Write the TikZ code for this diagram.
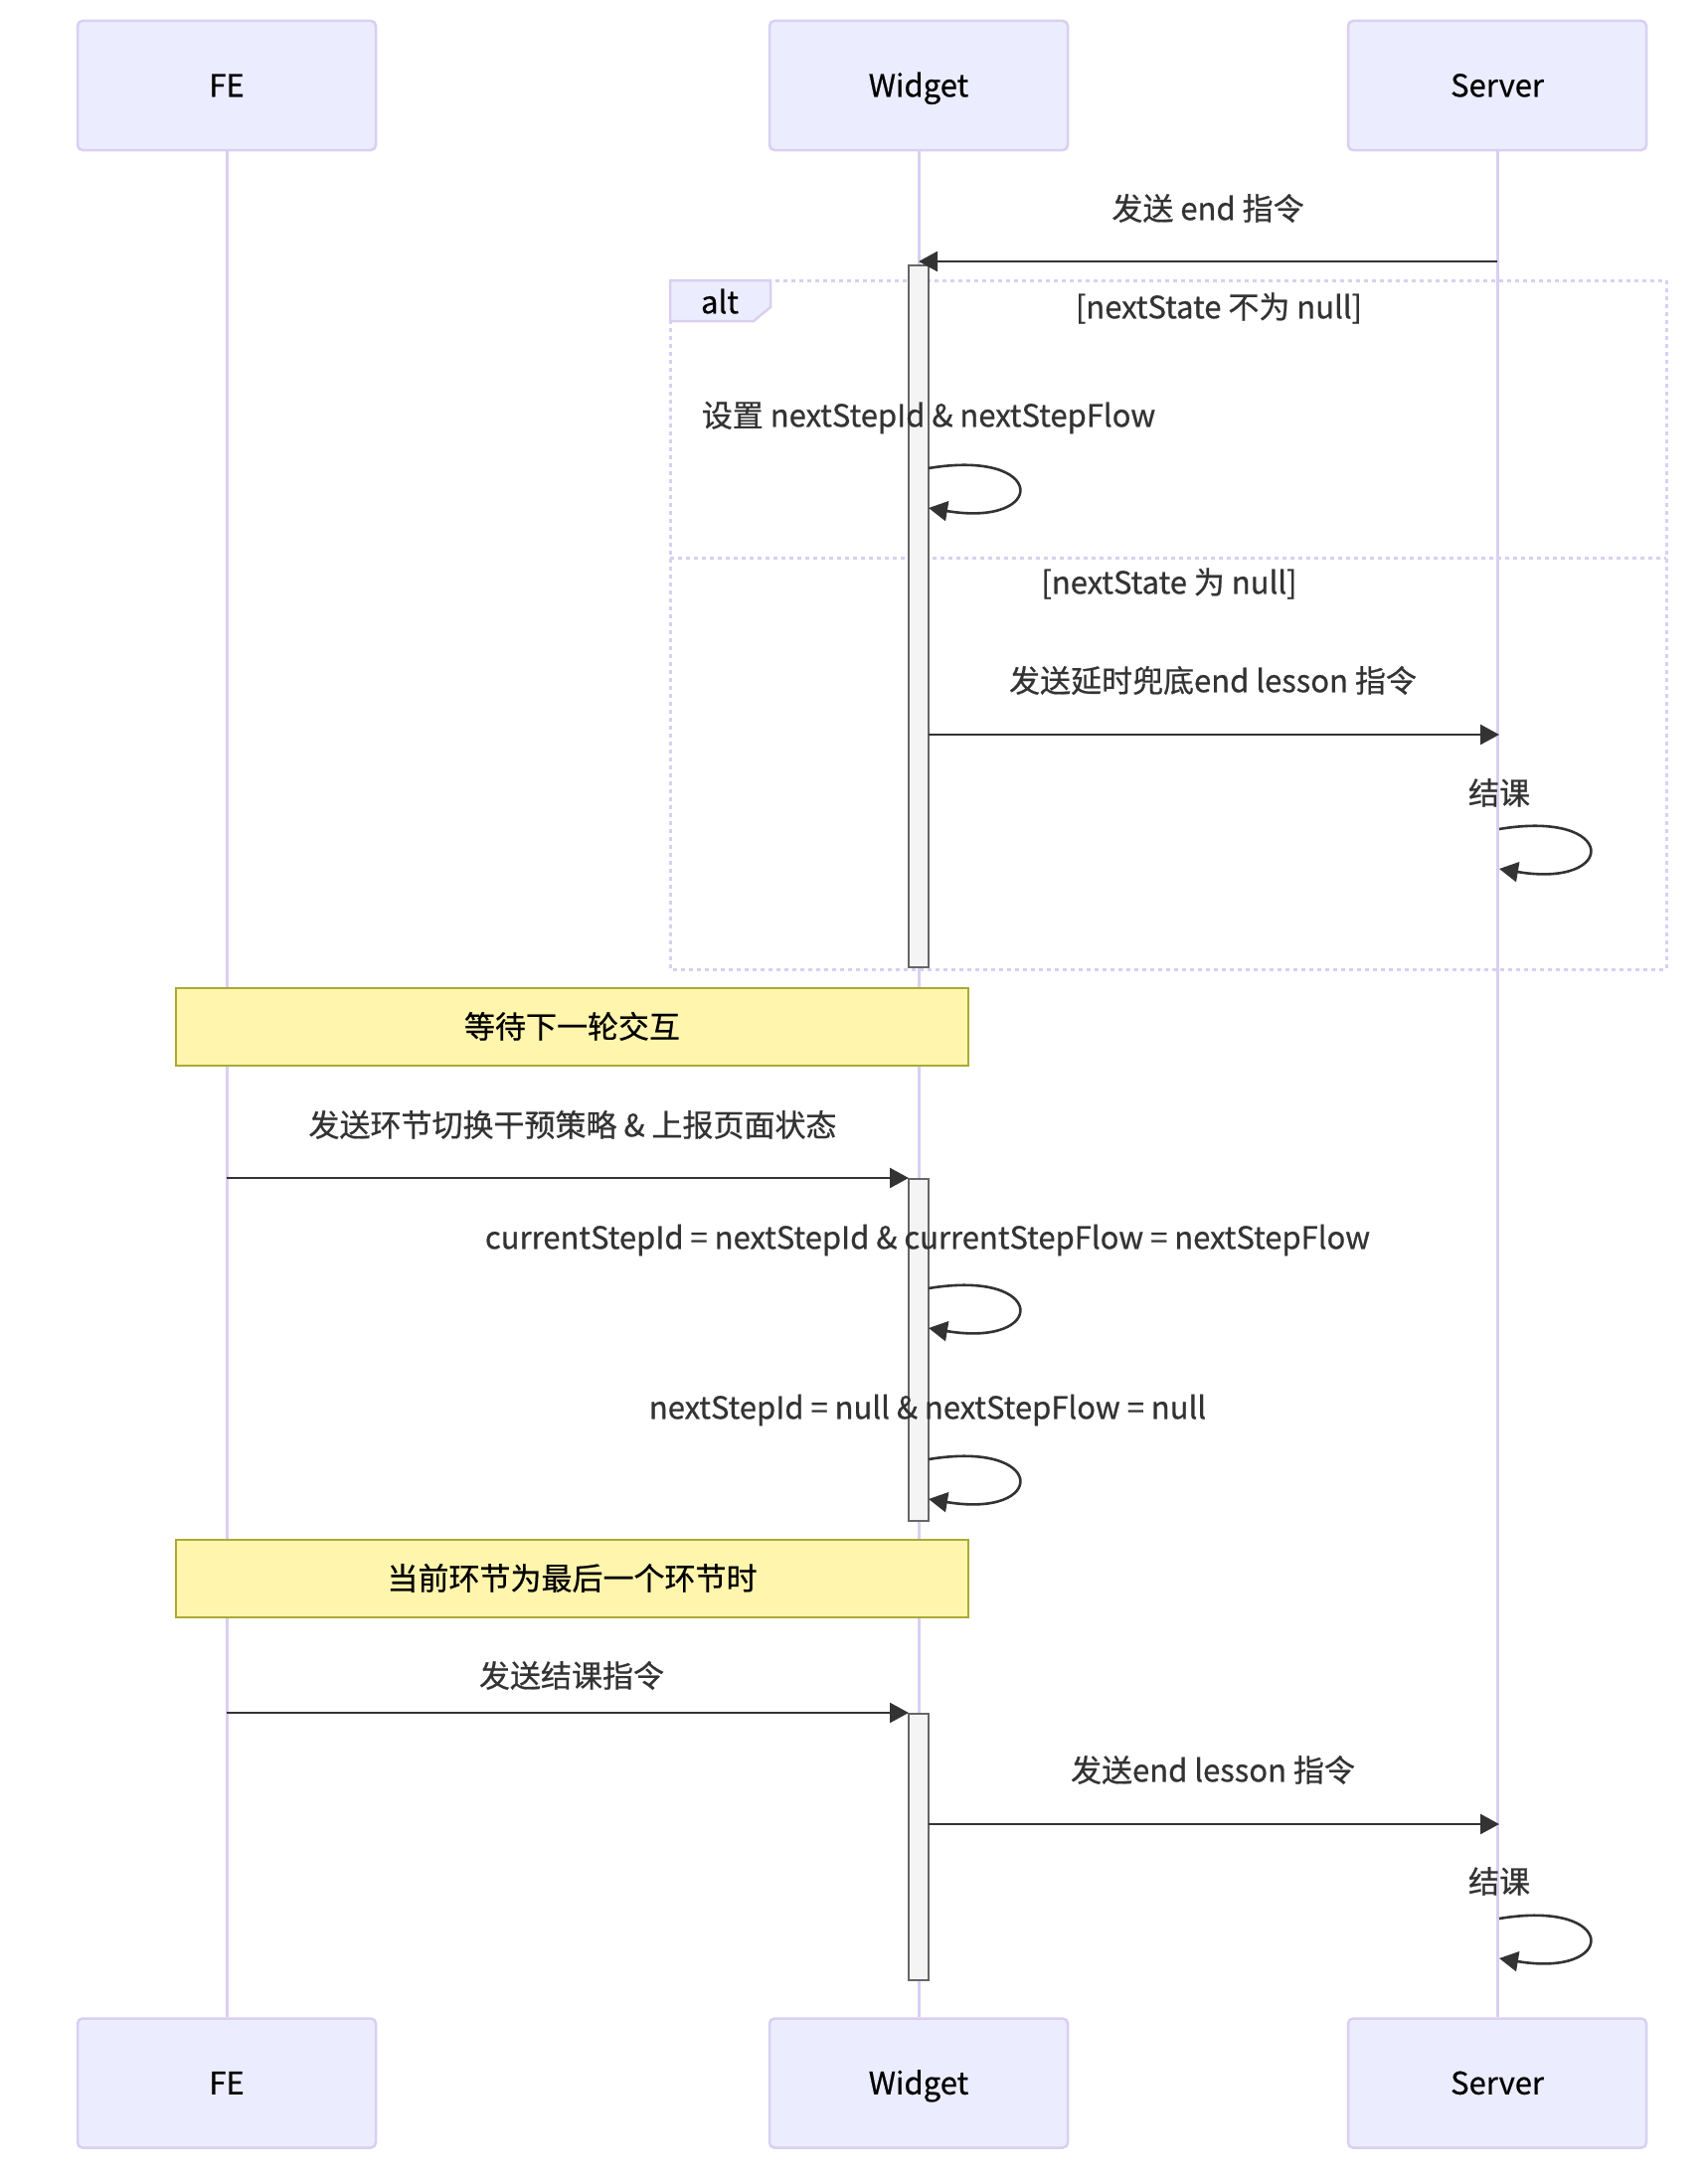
\documentclass[tikz,border=0pt]{standalone}
\usepackage{fontspec}
\setmainfont{Noto Sans CJK SC}[FakeBold=0.6]
\usetikzlibrary{arrows.meta}
\definecolor{actfill}{HTML}{ECECFF}
\definecolor{lilac}{HTML}{D9CFF2}
\definecolor{notefill}{HTML}{FFF5AD}
\definecolor{notedraw}{HTML}{AAAA33}
\definecolor{actvfill}{HTML}{F4F4F4}
\definecolor{actvdraw}{HTML}{666666}
\definecolor{txt}{HTML}{333333}
\begin{document}
\begin{tikzpicture}[x=1pt,y=-1pt,
  txtbox/.style={font=\fontsize{31}{37}\selectfont, text height=22.5pt, text depth=0pt},
  actor/.style={txtbox, draw=lilac, fill=actfill, line width=2.5pt, rounded corners=5pt,
    minimum width=300pt, minimum height=130pt, inner sep=0pt, text=black},
  lifeline/.style={draw=lilac, line width=3pt},
  activ/.style={draw=actvdraw, fill=actvfill, line width=2pt, minimum width=20pt,
    inner sep=0pt, anchor=north},
  msgtext/.style={txtbox, text=txt, inner sep=0pt},
  msg/.style={draw=txt, line width=2.6pt, -{Triangle[length=19pt,width=20pt]}},
  notebox/.style={txtbox, draw=notedraw, fill=notefill, line width=2pt, minimum width=797pt,
    minimum height=78pt, inner sep=0pt, text=black},
  altline/.style={draw=lilac, line width=3pt, dash pattern=on 4pt off 4pt},
]
\useasboundingbox (0,0) rectangle (1718,2192);
\fill[white] (0,0) rectangle (1718,2192);

% actors
\node[actor] (feT) at (228,86) {FE};
\node[actor] (wgT) at (924,86) {Widget};
\node[actor] (svT) at (1506,86) {Server};
\node[actor] (feB) at (228,2095.5) {FE};
\node[actor] (wgB) at (924,2095.5) {Widget};
\node[actor] (svB) at (1506,2095.5) {Server};

% lifelines
\draw[lifeline] (feT.south) -- (feB.north);
\draw[lifeline] (wgT.south) -- (wgB.north);
\draw[lifeline] (svT.south) -- (svB.north);

% alt frame
\draw[altline] (674,282) rectangle (1676,975);
\draw[altline] (674,561) -- (1676,561);
\path[fill=actfill, draw=lilac, line width=2.5pt] (674,282) -- (775,282) -- (775,309) -- (758,323) -- (674,323) -- cycle;
\node[msgtext, text=black] (altlbl) at (724,304) {alt};
\node[msgtext] (cond1) at (1226,309) {[nextState 不为 null]};
\node[msgtext] (cond2) at (1176,586) {[nextState 为 null]};

% activations
\node[activ, minimum height=706pt] (act1) at (924,266) {};
\node[activ, minimum height=344pt] (act2) at (924,1185) {};
\node[activ, minimum height=268pt] (act3) at (924,1723) {};

% message 1
\coordinate (m1s) at (1506,263);
\coordinate (m1e) at (924,263);
\node[msgtext] (m1t) at (1215,210) {发送 end 指令};
\draw[msg] (m1s) -- (m1e);

% self loop 1
\node[msgtext] (l1t) at (934,418) {设置 nextStepId \& nextStepFlow};
\coordinate (l1s) at (934,471);
\coordinate (l1e) at (934,511);
\draw[msg] (l1s) .. controls +(120,-20) and +(120,20) .. (l1e);

% message 2
\node[msgtext] (m2t) at (1220,685) {发送延时兜底end lesson 指令};
\coordinate (m2s) at (934,739);
\coordinate (m2e) at (1508,739);
\draw[msg] (m2s) -- (m2e);

% server loop 1
\node[msgtext] (s1t) at (1508,798) {结课};
\coordinate (s1s) at (1508,834);
\coordinate (s1e) at (1508,874);
\draw[msg] (s1s) .. controls +(120,-20) and +(120,20) .. (s1e);

% note 1
\node[notebox] (n1) at (575.5,1033) {等待下一轮交互};

% message 3
\node[msgtext] (m3t) at (576,1132) {发送环节切换干预策略 \& 上报页面状态};
\coordinate (m3s) at (228,1185);
\coordinate (m3e) at (914,1185);
\draw[msg] (m3s) -- (m3e);

% loop 2
\node[msgtext] (l2t) at (933,1245) {currentStepId = nextStepId \& currentStepFlow = nextStepFlow};
\coordinate (l2s) at (934,1296);
\coordinate (l2e) at (934,1336);
\draw[msg] (l2s) .. controls +(120,-20) and +(120,20) .. (l2e);

% loop 3
\node[msgtext] (l3t) at (933,1416) {nextStepId = null \& nextStepFlow = null};
\coordinate (l3s) at (934,1468);
\coordinate (l3e) at (934,1508);
\draw[msg] (l3s) .. controls +(120,-20) and +(120,20) .. (l3e);

% note 2
\node[notebox] (n2) at (575.5,1588) {当前环节为最后一个环节时};

% message 4
\node[msgtext] (m4t) at (575,1686) {发送结课指令};
\coordinate (m4s) at (228,1723);
\coordinate (m4e) at (914,1723);
\draw[msg] (m4s) -- (m4e);

% message 5
\node[msgtext] (m5t) at (1220,1781) {发送end lesson 指令};
\coordinate (m5s) at (934,1835);
\coordinate (m5e) at (1508,1835);
\draw[msg] (m5s) -- (m5e);

% server loop 2
\node[msgtext] (s2t) at (1508,1893) {结课};
\coordinate (s2s) at (1508,1930);
\coordinate (s2e) at (1508,1970);
\draw[msg] (s2s) .. controls +(120,-20) and +(120,20) .. (s2e);
\end{tikzpicture}
\end{document}
